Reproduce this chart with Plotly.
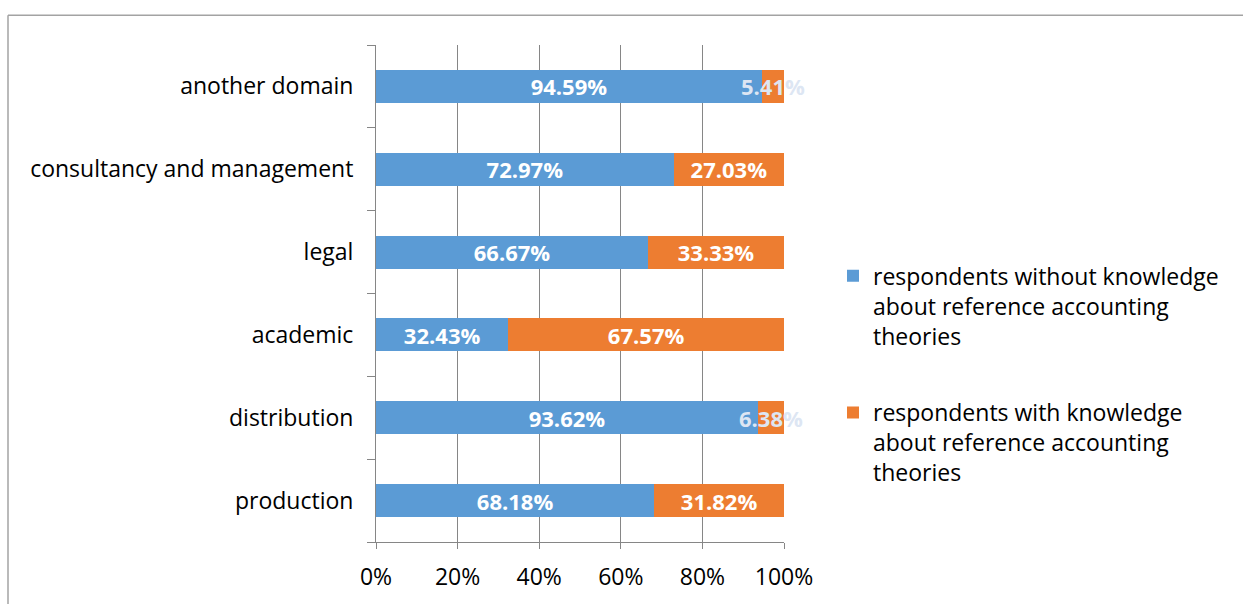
import plotly.graph_objects as go

categories = ["production", "distribution", "academic", "legal",
              "consultancy and management", "another domain"]
without_knowledge = [68.18, 93.62, 32.43, 66.67, 72.97, 94.59]
with_knowledge = [31.82, 6.38, 67.57, 33.33, 27.03, 5.41]
series_names = ["respondents without knowledge<br>about reference accounting<br>theories",
                "respondents with knowledge<br>about reference accounting<br>theories"]
tick_vals = [0, 20, 40, 60, 80, 100]
tick_text = ["0%", "20%", "40%", "60%", "80%", "100%"]

BLUE = "#5b9bd5"
ORANGE = "#ed7d31"
FONT = "Open Sans"
FS = 23
LFS = 22

def label_colors(vals):
    return ["#dde6f3" if v < 10 else "white" for v in vals]

fig = go.Figure()
fig.add_trace(go.Bar(
    y=categories, x=without_knowledge, orientation="h", name=series_names[0],
    marker=dict(color=BLUE, line=dict(width=0)),
    text=[f"{v:.2f}%" for v in without_knowledge], textposition="inside",
    insidetextanchor="middle", constraintext="none", textangle=0, cliponaxis=False,
    textfont=dict(family=FONT, size=LFS, color="white", weight="bold"),
    legendgroup="a",
))
fig.add_trace(go.Bar(
    y=categories, x=with_knowledge, orientation="h", name=series_names[1],
    marker=dict(color=ORANGE, line=dict(width=0)),
    text=[f"{v:.2f}%" for v in with_knowledge], textposition="inside",
    insidetextanchor="middle", constraintext="none", textangle=0, cliponaxis=False,
    textfont=dict(family=FONT, size=LFS, color=label_colors(with_knowledge), weight="bold"),
    legendgroup="b",
))

W, H = 1243, 604
L, R, T, B = 376, 459, 45, 58
pw, ph = W - L - R, H - T - B

def px_to_paper_x(px):
    return (px - L) / pw

def px_to_paper_y(py):
    return (H - B - py) / ph

border = "#a3a3a3"
fig.update_layout(
    width=W, height=H, margin=dict(l=L, r=R, t=T, b=B),
    barmode="stack", bargap=0.6,
    plot_bgcolor="white", paper_bgcolor="white",
    font=dict(family=FONT, size=FS, color="black"),
    legend=dict(x=px_to_paper_x(833), y=px_to_paper_y(256), xanchor="left", yanchor="top",
                traceorder="grouped", tracegroupgap=44, valign="top",
                font=dict(family=FONT, size=FS, color="black"),
                itemwidth=30, bgcolor="rgba(0,0,0,0)"),
    shapes=[
        dict(type="line", xref="paper", yref="paper",
             x0=px_to_paper_x(8), x1=px_to_paper_x(1260),
             y0=px_to_paper_y(15), y1=px_to_paper_y(15),
             line=dict(color=border, width=1.5)),
        dict(type="line", xref="paper", yref="paper",
             x0=px_to_paper_x(8), x1=px_to_paper_x(8),
             y0=px_to_paper_y(15), y1=px_to_paper_y(620),
             line=dict(color=border, width=1.5)),
    ],
)
fig.update_xaxes(range=[0, 100], tickvals=tick_vals, ticktext=tick_text,
                 showgrid=True, gridcolor="#868686", gridwidth=1,
                 showline=True, linecolor="#868686", linewidth=1,
                 ticks="outside", ticklen=6, tickcolor="#868686",
                 zeroline=False, ticklabelstandoff=8,
                 tickfont=dict(family=FONT, size=FS, color="black"))
fig.update_yaxes(categoryorder="array", categoryarray=categories,
                 showline=True, linecolor="#868686", linewidth=1,
                 ticks="outside", tickson="boundaries", ticklen=8, tickcolor="#868686",
                 showgrid=False, ticklabelstandoff=17,
                 tickfont=dict(family=FONT, size=FS, color="black"))

fig.write_html("out.html")
